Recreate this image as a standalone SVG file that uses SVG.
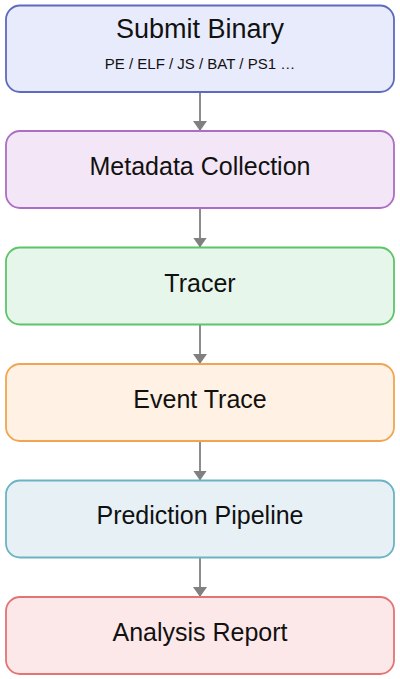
<svg xmlns="http://www.w3.org/2000/svg" width="400" height="679" viewBox="0 0 400 679">
<defs>
<style>
.box{stroke-width:1.8}
.t{font-family:"Liberation Sans",Arial,sans-serif;font-size:25px;fill:#111;text-anchor:middle}
.s{font-family:"Liberation Sans",Arial,sans-serif;font-size:15px;fill:#111;text-anchor:middle}
.c{stroke:#808080;stroke-width:1.8;fill:none}
</style>
<marker id="ah" markerWidth="10" markerHeight="14" refX="10" refY="7" orient="auto" markerUnits="userSpaceOnUse">
<path d="M0,0 L10,7 L0,14 Z" fill="#808080"/>
</marker>
</defs>
<rect width="400" height="679" fill="#ffffff"/>
<g id="connectors">
<line class="c" x1="200" y1="92" x2="200" y2="131" marker-end="url(#ah)"/>
<line class="c" x1="200" y1="208" x2="200" y2="247.5" marker-end="url(#ah)"/>
<line class="c" x1="200" y1="324.5" x2="200" y2="364" marker-end="url(#ah)"/>
<line class="c" x1="200" y1="441" x2="200" y2="480.5" marker-end="url(#ah)"/>
<line class="c" x1="200" y1="557.5" x2="200" y2="597" marker-end="url(#ah)"/>
</g>
<g id="submit">
<rect class="box" x="6" y="5.5" width="388" height="86.5" rx="14" fill="#e8ebfb" stroke="#5c6bc0"/>
<text class="t" x="200" y="38" style="font-size:27px">Submit Binary</text>
<text class="s" x="200" y="68.5">PE / ELF / JS / BAT / PS1 …</text>
</g>
<g id="metadata">
<rect class="box" x="6" y="131" width="388" height="77" rx="14" fill="#f3e6f6" stroke="#ab6ec4"/>
<text class="t" x="200" y="174.5">Metadata Collection</text>
</g>
<g id="tracer">
<rect class="box" x="6" y="247.5" width="388" height="77" rx="14" fill="#e7f6ea" stroke="#5cc46a"/>
<text class="t" x="200" y="291.5">Tracer</text>
</g>
<g id="event">
<rect class="box" x="6" y="364" width="388" height="77" rx="14" fill="#fff1e3" stroke="#f0a552"/>
<text class="t" x="200" y="408">Event Trace</text>
</g>
<g id="prediction">
<rect class="box" x="6" y="480.5" width="388" height="77" rx="14" fill="#e6f0f5" stroke="#6ab3c4"/>
<text class="t" x="200" y="524">Prediction Pipeline</text>
</g>
<g id="report">
<rect class="box" x="6" y="597" width="388" height="77" rx="14" fill="#fde8e9" stroke="#e27474"/>
<text class="t" x="200" y="640.5">Analysis Report</text>
</g>
</svg>
